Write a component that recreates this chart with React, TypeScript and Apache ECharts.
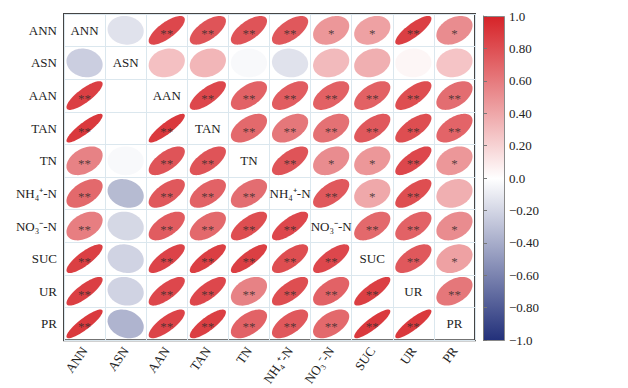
import React, { useEffect, useRef } from "react";
import * as echarts from "echarts";

const variables = ["ANN", "ASN", "AAN", "TAN", "TN", "NH₄⁺-N", "NO₃⁻-N", "SUC", "UR", "PR"];

// correlation coefficients, one row per variable (columns in the same order)
const corrANN = [1, -0.15, 0.88, 0.82, 0.82, 0.8, 0.5, 0.45, 0.92, 0.55];
const corrASN = [-0.25, 1, 0.3, 0.35, -0.03, -0.15, 0.33, 0.38, 0.04, 0.28];
const corrAAN = [0.92, 0.0, 1, 0.88, 0.75, 0.78, 0.76, 0.76, 0.85, 0.7];
const corrTAN = [0.95, 0.0, 0.95, 1, 0.72, 0.65, 0.68, 0.8, 0.85, 0.74];
const corrTN = [0.6, -0.03, 0.82, 0.82, 1, 0.82, 0.55, 0.5, 0.88, 0.5];
const corrNH4 = [0.72, -0.35, 0.8, 0.75, 0.7, 1, 0.8, 0.42, 0.85, 0.38];
const corrNO3 = [0.62, -0.2, 0.78, 0.72, 0.85, 0.88, 1, 0.72, 0.75, 0.55];
const corrSUC = [0.92, -0.22, 0.9, 0.92, 0.92, 0.85, 0.88, 1, 0.8, 0.45];
const corrUR = [0.92, -0.22, 0.88, 0.88, 0.6, 0.85, 0.75, 0.92, 1, 0.65];
const corrPR = [0.95, -0.38, 0.9, 0.92, 0.75, 0.8, 0.72, 0.95, 0.95, 1];

// significance marks (number of asterisks)
const sigANN = [0, 0, 2, 2, 2, 2, 1, 1, 2, 1];
const sigASN = [0, 0, 0, 0, 0, 0, 0, 0, 0, 0];
const sigAAN = [2, 0, 0, 2, 2, 2, 2, 2, 2, 2];
const sigTAN = [2, 0, 2, 0, 2, 2, 2, 2, 2, 2];
const sigTN = [2, 0, 2, 2, 0, 2, 1, 1, 2, 1];
const sigNH4 = [2, 0, 2, 2, 2, 0, 2, 1, 2, 0];
const sigNO3 = [2, 0, 2, 2, 2, 2, 0, 2, 2, 1];
const sigSUC = [2, 0, 2, 2, 2, 2, 2, 0, 2, 1];
const sigUR = [2, 0, 2, 2, 2, 2, 2, 2, 0, 2];
const sigPR = [2, 0, 2, 2, 2, 2, 2, 2, 2, 0];

const corrRows = [corrANN, corrASN, corrAAN, corrTAN, corrTN, corrNH4, corrNO3, corrSUC, corrUR, corrPR];
const sigRows = [sigANN, sigASN, sigAAN, sigTAN, sigTN, sigNH4, sigNO3, sigSUC, sigUR, sigPR];

const colorbarTicks = [-1, -0.8, -0.6, -0.4, -0.2, 0, 0.2, 0.4, 0.6, 0.8, 1];

const NAVY = "#22307a";
const RED = "#d62328";
const FONT = "Liberation Serif";

function fmtTick(v: number): string {
  if (Math.abs(v) < 1e-9) return "0.0";
  if (Math.abs(Math.abs(v) - 1) < 1e-9) return (v < 0 ? "−" : "") + "1.0";
  const s = Math.abs(v).toFixed(2);
  return (v < 0 ? "−" : "") + s;
}

export default function App() {
  const ref = useRef<HTMLDivElement>(null);

  useEffect(() => {
    if (!ref.current) return;
    const chart = echarts.init(ref.current, undefined, { renderer: "svg" });

    const data: number[][] = [];
    corrRows.forEach((row, i) => {
      row.forEach((r, j) => {
        data.push([j, i, r, sigRows[i][j]]);
      });
    });

    const option: any = {
      animation: false,
      backgroundColor: "#ffffff",
      textStyle: { fontFamily: FONT },
      grid: [
        {
          left: 64,
          top: 14,
          width: 411,
          height: 328,
          show: true,
          borderColor: "#454545",
          borderWidth: 2,
          backgroundColor: "transparent",
        },
        {
          left: 483,
          top: 16,
          width: 21,
          height: 324,
          show: false,
        },
      ],
      xAxis: [
        {
          type: "category",
          gridIndex: 0,
          data: variables,
          axisLine: { show: false },
          axisTick: { show: false },
          splitLine: { show: true, interval: 0, lineStyle: { color: "#dbe7ee", width: 1 } },
          axisLabel: {
            interval: 0,
            rotate: 55,
            margin: 8,
            fontSize: 13,
            fontFamily: FONT,
            color: "#222",
          },
        },
        {
          type: "value",
          gridIndex: 1,
          show: false,
          min: 0,
          max: 1,
        },
      ],
      yAxis: [
        {
          type: "category",
          gridIndex: 0,
          inverse: true,
          data: variables,
          axisLine: { show: false },
          axisTick: { show: false },
          splitLine: { show: true, interval: 0, lineStyle: { color: "#dbe7ee", width: 1 } },
          axisLabel: {
            interval: 0,
            margin: 7,
            fontSize: 13,
            fontFamily: FONT,
            color: "#222",
          },
        },
        {
          type: "value",
          gridIndex: 1,
          position: "right",
          min: -1,
          max: 1,
          interval: 0.2,
          axisLine: { show: true, lineStyle: { color: "#777", width: 1 } },
          axisTick: { show: true, length: 4, lineStyle: { color: "#777" } },
          splitLine: { show: false },
          axisLabel: {
            margin: 5,
            fontSize: 13,
            fontFamily: FONT,
            color: "#222",
            customValues: colorbarTicks,
            formatter: (v: number) => fmtTick(v),
          },
        },
      ],
      visualMap: {
        show: false,
        type: "continuous",
        min: -1,
        max: 1,
        dimension: 2,
        seriesIndex: 0,
        inRange: { color: [NAVY, "#ffffff", RED] },
      },
      graphic: [
        {
          type: "rect",
          left: 483,
          top: 16,
          shape: { x: 0, y: 0, width: 21, height: 324 },
          style: {
            fill: new echarts.graphic.LinearGradient(0, 0, 0, 1, [
              { offset: 0, color: RED },
              { offset: 0.5, color: "#ffffff" },
              { offset: 1, color: NAVY },
            ]),
            stroke: "#8a8a8a",
            lineWidth: 1,
          },
          z: 0,
        },
      ],
      series: [
        {
          type: "custom",
          coordinateSystem: "cartesian2d",
          xAxisIndex: 0,
          yAxisIndex: 0,
          data,
          encode: { x: 0, y: 1 },
          renderItem: (params: any, api: any) => {
            const ci = api.value(0);
            const ri = api.value(1);
            const r = api.value(2);
            const nSig = api.value(3);
            const c = api.coord([ci, ri]);
            const sz = api.size([1, 1]);
            const w = sz[0];
            const h = sz[1];
            if (ci === ri) {
              return {
                type: "text",
                x: c[0],
                y: c[1],
                style: {
                  text: variables[ci],
                  fontSize: 13,
                  fontFamily: FONT,
                  fill: "#222",
                  align: "center",
                  verticalAlign: "middle",
                },
              };
            }
            // minor/major axis ratio of the ellipse
            const q = Math.pow(Math.max(0, 1 - Math.abs(r)), 0.45);
            let d = 2 * Math.atan(q);
            if (r < 0) d = Math.PI - d;
            const pts: number[][] = [];
            const N = 72;
            for (let k = 0; k < N; k++) {
              const t = (k / N) * Math.PI * 2;
              pts.push([
                c[0] + 0.44 * w * Math.cos(t + d / 2),
                c[1] - 0.44 * h * Math.cos(t - d / 2),
              ]);
            }
            const children: any[] = [
              {
                type: "polygon",
                shape: { points: pts },
                style: { fill: api.visual("color"), opacity: 0.95 },
              },
            ];
            if (nSig > 0) {
              children.push({
                type: "text",
                x: c[0],
                y: c[1] + 3,
                style: {
                  text: "*".repeat(nSig),
                  fontSize: 13,
                  fontFamily: FONT,
                  fill: "#3a2e2e",
                  opacity: 0.85,
                  align: "center",
                  verticalAlign: "middle",
                },
              });
            }
            return { type: "group", children };
          },
        },
        {
          type: "line",
          xAxisIndex: 1,
          yAxisIndex: 1,
          data: [],
        },
      ],
    };

    chart.setOption(option);
    return () => {
      chart.dispose();
    };
  }, []);

  return (
    <div
      ref={ref}
      style={{ position: "fixed", left: 0, top: 0, width: 628, height: 388, background: "#fff" }}
    />
  );
}
